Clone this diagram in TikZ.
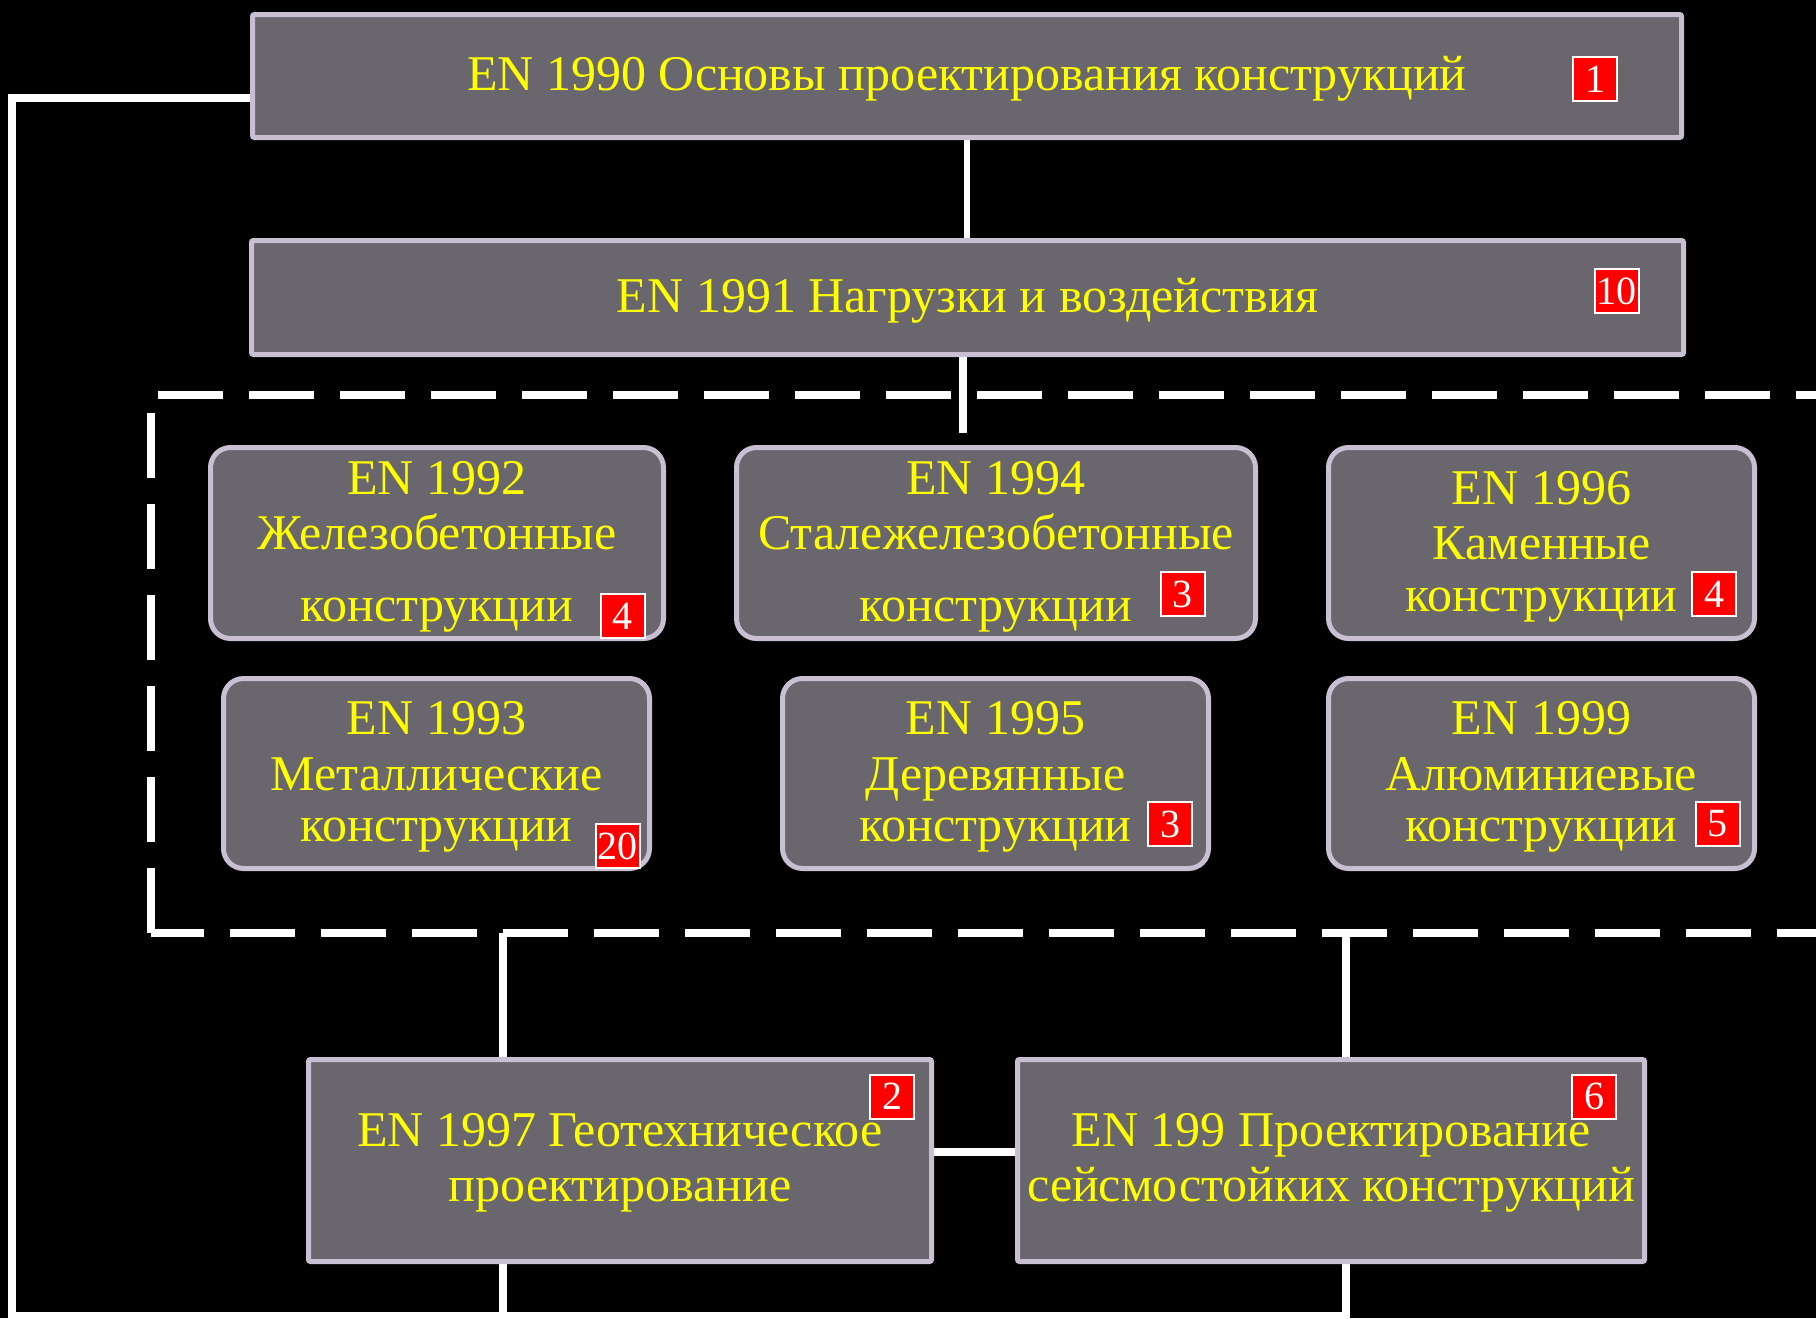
\documentclass[tikz,border=0pt]{standalone}
\usepackage{fontspec}
\setmainfont{Liberation Serif}
\usetikzlibrary{calc}
\definecolor{boxfill}{RGB}{105,102,110}
\definecolor{boxline}{RGB}{200,192,210}
\definecolor{txtyellow}{RGB}{255,255,0}
\definecolor{badgered}{RGB}{255,0,0}
\pgfdeclarelayer{backlayer}
\pgfdeclarelayer{connlayer}
\pgfsetlayers{backlayer,connlayer,main}
\tikzset{
  sqbox/.style={draw=boxline, fill=boxfill, line width=5pt, rounded corners=2pt, inner sep=0pt},
  rbox/.style={draw=boxline, fill=boxfill, line width=5pt, rounded corners=20pt, inner sep=0pt},
  maintext/.style={text=txtyellow, font=\fontsize{50}{55}\selectfont, inner sep=0pt, align=center},
  badge/.style={draw=white, fill=badgered, line width=2pt, text=white, font=\fontsize{40}{40}\selectfont, inner sep=0pt, minimum width=44pt, minimum height=44pt},
  conn/.style={draw=white, line width=8pt},
  frameline/.style={draw=white, line width=8pt, dash pattern=on 65pt off 26pt},
}
\begin{document}
\begin{tikzpicture}[x=1pt,y=-1pt]
\begin{pgfonlayer}{backlayer}
  \fill[black] (0,0) rectangle (1816,1318);
\end{pgfonlayer}
\useasboundingbox (0,0) rectangle (1816,1318);

% boxes
\node[sqbox, minimum width=1429pt, minimum height=123pt] (b1990) at (967,76) {};
\node[sqbox, minimum width=1432pt, minimum height=114pt] (b1991) at (967.5,297.5) {};
\node[rbox, minimum width=453pt, minimum height=191pt] (b1992) at (437,543) {};
\node[rbox, minimum width=519pt, minimum height=191pt] (b1994) at (996,543) {};
\node[rbox, minimum width=426pt, minimum height=191pt] (b1996) at (1541.5,543) {};
\node[rbox, minimum width=426pt, minimum height=190pt] (b1993) at (436.5,773.5) {};
\node[rbox, minimum width=426pt, minimum height=190pt] (b1995) at (995.5,773.5) {};
\node[rbox, minimum width=426pt, minimum height=190pt] (b1999) at (1541.5,773.5) {};
\node[sqbox, minimum width=623pt, minimum height=202pt] (b1997) at (620,1160.5) {};
\node[sqbox, minimum width=627pt, minimum height=202pt] (b199) at (1331,1160.5) {};

% texts
\node[maintext, anchor=base] (t1990) at (967,90) {EN 1990 Основы проектирования конструкций};
\node[maintext, anchor=base] (t1991) at (967.5,312) {EN 1991 Нагрузки и воздействия};
\node[maintext, anchor=north] (t1992) at (437,461.2) {EN 1992\\Железобетонные\\[17pt]конструкции};
\node[maintext, anchor=north] (t1994) at (996,461.2) {EN 1994\\Сталежелезобетонные\\[17pt]конструкции};
\node[maintext, anchor=north] (t1996) at (1541.5,471.2) {EN 1996\\Каменные\\[-3pt]конструкции};
\node[maintext, anchor=north] (t1993) at (436.5,701.2) {EN 1993\\[1pt]Металлические\\[-4pt]конструкции};
\node[maintext, anchor=north] (t1995) at (995.5,701.2) {EN 1995\\[1pt]Деревянные\\[-4pt]конструкции};
\node[maintext, anchor=north] (t1999) at (1541.5,701.2) {EN 1999\\[1pt]Алюминиевые\\[-4pt]конструкции};
\node[maintext, anchor=north] (t1997) at (620,1113.2) {EN 1997 Геотехническое\\проектирование};
\node[maintext, anchor=north] (t199) at (1331,1113.2) {EN 199 Проектирование\\сейсмостойких конструкций};

% badges
\node[badge] (n1990) at (1595,79) {1};
\node[badge] (n1991) at (1616.5,291) {10};
\node[badge] (n1992) at (622.5,616) {4};
\node[badge] (n1993) at (617.5,846) {20};
\node[badge] (n1994) at (1182.5,594) {3};
\node[badge] (n1995) at (1170,824) {3};
\node[badge] (n1996) at (1714,594) {4};
\node[badge] (n1999) at (1717.5,824) {5};
\node[badge] (n1997) at (892,1096.5) {2};
\node[badge] (n199) at (1594,1096.5) {6};

% helper coordinates
\coordinate (ftop) at (963,433);
\coordinate (lc1) at (12,98);
\coordinate (lc2) at (12,1316);
\coordinate (c1997) at (503,1316);
\coordinate (c199) at (1346,1316);
\coordinate (fb1) at (503,933);
\coordinate (fb2) at (1346,933);

\begin{pgfonlayer}{connlayer}
  % dashed group frame
  \draw[frameline, dash phase=84pt] (151,395) -- (1816,395);
  \draw[frameline, dash phase=73pt] (151,395) -- (151,933);
  \draw[frameline, dash phase=12pt] (151,933) -- (1816,933);
  % connectors
  \draw[conn, line width=6pt] (b1990.south) -- (b1990.south |- b1991.north);
  \draw[conn] (ftop |- b1991.south) -- (ftop);
  \draw[conn] (b1990.west |- lc1) -- (lc1) -- (lc2) -- (c199) -- (c199 |- b199.south);
  \draw[conn] (c1997) -- (c1997 |- b1997.south);
  \draw[conn] (fb1) -- (fb1 |- b1997.north);
  \draw[conn] (fb2) -- (fb2 |- b199.north);
  \draw[conn] ([yshift=8.5pt]b1997.east) -- ([yshift=8.5pt]b199.west);
\end{pgfonlayer}
\end{tikzpicture}
\end{document}
